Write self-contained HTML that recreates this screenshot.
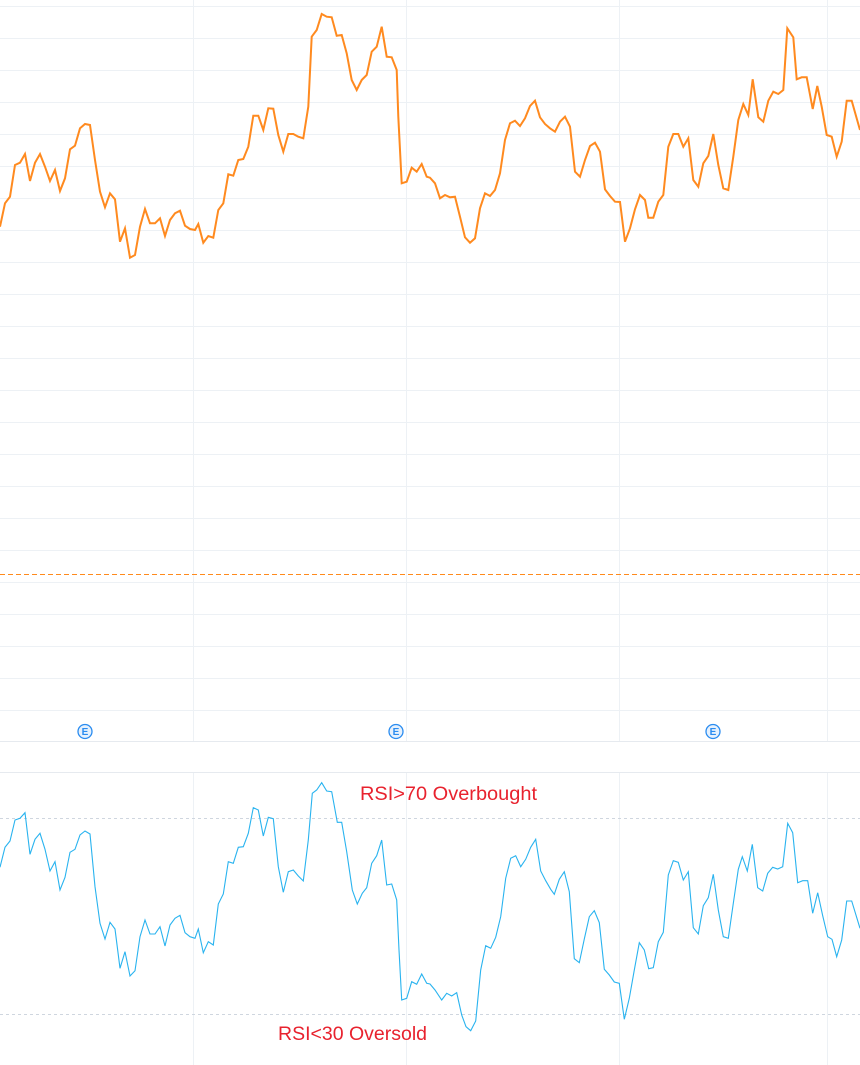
<!DOCTYPE html>
<html><head><meta charset="utf-8"><style>
html,body{margin:0;padding:0;background:#fff;}
svg{display:block;}
</style></head><body>
<svg width="860" height="1065" viewBox="0 0 860 1065" xmlns="http://www.w3.org/2000/svg">
<rect width="860" height="1065" fill="#ffffff"/>
<g stroke="#edf1f5" stroke-width="1" fill="none" shape-rendering="crispEdges">
<path d="M0 6.5H860M0 38.5H860M0 70.5H860M0 102.5H860M0 134.5H860M0 166.5H860M0 198.5H860M0 230.5H860M0 262.5H860M0 294.5H860M0 326.5H860M0 358.5H860M0 390.5H860M0 422.5H860M0 454.5H860M0 486.5H860M0 518.5H860M0 550.5H860M0 582.5H860M0 614.5H860M0 646.5H860M0 678.5H860M0 710.5H860"/>
<path d="M0 741.5H860M0 772.5H860" stroke="#e6eaef"/>
<path d="M193.5 0V741M406.5 0V741M619.5 0V741M827.5 0V741M193.5 773V1065M406.5 773V1065M619.5 773V1065M827.5 773V1065"/>
</g>
<line x1="0" y1="574.5" x2="860" y2="574.5" stroke="#ff8a1c" stroke-width="1" stroke-dasharray="5,3"/>
<g stroke="#cfd6df" stroke-width="1" stroke-dasharray="3,3" shape-rendering="crispEdges">
<line x1="0" y1="818.5" x2="860" y2="818.5"/>
<line x1="0" y1="1014.5" x2="860" y2="1014.5"/>
</g>
<polyline fill="none" stroke="#ff8a1f" stroke-width="2" stroke-linejoin="miter" points="0,226.7 5,203.3 10,196.7 15,165 20,162.7 25,154 30,181 35,162.7 40,154 45,166.7 50,181 55,170 60,191 65,178.3 70,149.3 75,145.7 80,128.3 85,124 90,125 95,160 100,191.7 105,207.3 110,193.3 115,199.3 120,241.7 125,228.3 130,257.7 135,255 140,226.7 145,209 150,223.3 155,223.3 160,218.3 165,236 170,220 175,213.3 180,210.7 185,225.7 190,229 195,230 198.3,224 203.3,242.7 208.3,236 213.3,237.7 218.3,210 223.3,203.3 228.3,174.3 233.3,175.7 238.3,160 243.3,159 248.3,146.7 253.3,115.7 258.3,115.7 263.3,130 268.3,108.3 273.3,108.7 278.3,135 283.3,151.7 288.3,134 293.3,134 298.3,136.7 303.3,138.3 308.3,106.7 311.7,36.7 316.7,30 321.7,14 326.7,16.7 331.7,17.3 336.7,35.7 341.7,35 346.7,53.3 351.7,80 356.7,90 361.7,80 366.7,75 371.7,51.7 376.7,46.7 381.7,26.7 386.7,56.7 391.7,57.3 396.7,70 398.3,116.7 401.7,183.3 406.7,181.7 411.7,167.7 416.7,171.7 421.7,164 426.7,176.7 430,177.7 435,183.3 440,198.3 445,195 450,197.3 455,196.7 460,216.7 465,237.3 470,242.7 475,238.3 480,208.3 485,193.3 490,196 495,190 500,173.3 505,140 510,123.3 515,120.7 520,126 525,118.3 530,106 535,100.7 540,117.3 545,124 550,128.3 555,131.7 560,121.7 565,116.7 570,126.7 575,171.7 580,176.7 585,160 590,146 595,142.7 600,151.7 605,189.3 610,196 615,201.7 620,202 625,241.7 630,228.3 635,209.3 640,195 645,200 648.3,217.7 653.3,217.7 658.3,201.7 663.3,195 668.3,146.7 673.3,134 678.3,134 683.3,146.7 688.3,138.3 693.3,180 698.3,186.7 703.3,163.3 708.3,156 713.3,134 718.3,165 723.3,188.3 728.3,190 733.3,156.7 738.3,120 743.3,104 748.3,115 752.7,79.3 758.3,117.3 763.3,121.7 768.3,100.7 773.3,91.7 778.3,94 783.3,90 787.3,28.3 793.3,37.3 796.7,79.3 801.7,77.3 806.7,77.3 812.7,109 817.3,86 821.7,106.7 826.7,135 831.7,136.7 836.7,156.7 841.7,141.7 846.7,100.7 851.7,100.7 860,130"/>
<polyline fill="none" stroke="#29b3ef" stroke-width="1.1" points="0,867.3 5,847.3 10,841 15,820 20,818.3 25,812.7 30,854.3 35,839.3 40,833.3 45,849.3 50,871 55,861.7 60,890 65,877.3 70,852.3 75,849.3 80,835 85,831 90,834 95,886.7 100,923.3 105,939 110,922.3 115,929 120,968.3 125,951.7 130,976 135,970.7 140,936.7 145,920 150,934 155,934 160,926.7 165,946 170,925 175,918.3 180,915.3 185,932.7 190,936.7 195,938.3 198.3,929 203.3,952.7 208.3,941.7 213.3,945 218.3,904 223.3,894 228.3,861.7 233.3,863.3 238.3,847.3 243.3,846.7 248.3,833.3 253.3,807.7 258.3,810 263.3,836 268.3,817.3 273.3,818.7 278.3,866.7 283.3,892.3 288.3,871.7 293.3,870 298.3,876 303.3,881 308.3,840 312.3,793.3 316.7,790 321.7,782.7 326.7,791 331.7,791.7 337.3,822.3 341.7,822.3 346.7,851.7 352.3,890 357.3,904 362.3,893.3 366.7,887.7 371.7,863.3 376.7,855.7 381.7,840 386.7,885 391.7,884 396.7,900 399,950 401.7,1000 406.7,998.3 411.7,981.7 416.7,984.3 421.7,974 426.7,983.3 430,984 435,990 441.7,1000 446.7,993.3 451.7,996 456.7,992.7 461.7,1015 466,1026.7 470.7,1030.7 475.7,1021 480.7,970 485.7,945.7 490.7,948.3 495.7,937.3 500.7,916.7 505.7,878.3 510.7,858.3 515.7,855.7 520.7,866.7 525.7,859.3 530.7,847.3 535.7,839.3 540.7,871 545.7,880.7 550.7,889.3 554.3,894.3 559.3,879.3 564.3,871.7 569.3,891.7 574.3,958.7 579.3,962.7 584.3,939 589.3,916.7 594.3,910.7 599.3,922.7 604.3,969.3 609.3,975 614.3,982 619.3,983.3 624.3,1019.3 629.3,998.3 634.3,970 639.3,942.7 644.3,950 648.7,968.7 653.3,967.7 658.3,941.7 663.3,932.3 668.3,875 673.3,860.7 678.3,862.3 683.3,880 688.3,871.7 693.3,927.7 698.3,934 703.3,905.7 708.3,897.7 713.3,874.3 718.3,910 723.3,936.7 728.3,938.3 733.3,903.3 738.3,869.3 742.3,856.7 747.3,871 752.3,844.3 757.7,887.7 762.7,891 767.7,873.3 772.7,867.3 777.7,869 782.7,866.7 787.7,823.3 792.7,832.7 797.7,882.7 802.7,880.7 807.7,880.7 812.7,913.3 817.7,892.7 822.7,915.7 827.7,936.7 832,939.3 836.7,956.7 841.7,940 846.7,901 851.7,901 860,928.3"/>
<g font-family="Liberation Sans, sans-serif" font-size="10" font-weight="bold" fill="#2a8cf0" text-anchor="middle">
<circle cx="85" cy="731.5" r="7" fill="#e6f1fd" stroke="#2a8cf0" stroke-width="1.3"/>
<text x="85" y="735">E</text>
<circle cx="396" cy="731.5" r="7" fill="#e6f1fd" stroke="#2a8cf0" stroke-width="1.3"/>
<text x="396" y="735">E</text>
<circle cx="713" cy="731.5" r="7" fill="#e6f1fd" stroke="#2a8cf0" stroke-width="1.3"/>
<text x="713" y="735">E</text>
</g>
<g font-family="Liberation Sans, sans-serif" font-size="19" fill="#e8222e">
<text x="360" y="800" textLength="177" lengthAdjust="spacingAndGlyphs">RSI&gt;70 Overbought</text>
<text x="278" y="1040" textLength="149" lengthAdjust="spacingAndGlyphs">RSI&lt;30 Oversold</text>
</g>
</svg>
</body></html>
